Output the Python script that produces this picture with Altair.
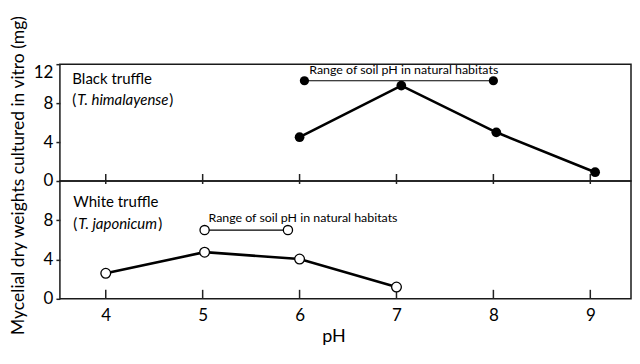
import altair as alt
import pandas as pd

# ---- data ----
ph_black = [6.0, 7.05, 8.03, 9.05]
w_black = [4.5, 9.8, 5.0, 0.9]
ph_white = [4.0, 5.02, 6.0, 7.0]
w_white = [2.6, 4.75, 4.05, 1.2]
range_black_ph = [6.05, 8.0]
range_black_w = [10.3, 10.3]
range_white_ph = [5.02, 5.88]
range_white_w = [7.0, 7.0]
x_ticks = [4, 5, 6, 7, 8, 9]
y_ticks_top = [0, 4, 8, 12]
y_ticks_bottom = [0, 4, 8]
range_label = "Range of soil pH in natural habitats"

FONT = "Lato"
W = 572
H_TOP = 117
H_BOT = 118
xdom = [3.527, 9.42]

xs = alt.Scale(domain=xdom, nice=False, zero=False)
ys = alt.Scale(domain=[0, 12], nice=False)

black = pd.DataFrame({"ph": ph_black, "w": w_black})
white = pd.DataFrame({"ph": ph_white, "w": w_white})
rb = pd.DataFrame({"ph": range_black_ph, "w": range_black_w})
rw = pd.DataFrame({"ph": range_white_ph, "w": range_white_w})
ticks = pd.DataFrame({"ph": x_ticks})

def labels(rows):
    return pd.DataFrame(rows, columns=["ph", "w", "t"])

# ---------- top panel ----------
X_none = alt.X("ph:Q", scale=xs, axis=None)
Y_top = alt.Y(
    "w:Q", scale=ys,
    axis=alt.Axis(
        values=y_ticks_top, title="Mycelial dry weights cultured in vitro (mg)",
        titleX=-41, titleY=111, titleBaseline="middle", titleAlign="center",
        titleFontSize=17.5, titleFontWeight="normal", titleFont=FONT,
        labelBaseline={"condition": {"test": "datum.value == 12", "value": "top"}, "value": "middle"},
    ),
)

top_line = alt.Chart(black).mark_line(color="black", strokeWidth=2.6).encode(x=X_none, y=Y_top)
top_pts = alt.Chart(black).mark_point(filled=True, color="black", size=95, opacity=1).encode(x=X_none, y=Y_top)
top_rline = alt.Chart(rb).mark_line(color="black", strokeWidth=1.2).encode(x=X_none, y=Y_top)
top_rpts = alt.Chart(rb).mark_point(filled=True, color="black", size=85, opacity=1).encode(x=X_none, y=Y_top)
top_rtext = alt.Chart(labels([[6.10, 11.4, range_label]])).mark_text(
    align="left", baseline="middle", font=FONT, fontSize=12.4, color="black"
).encode(x=X_none, y=Y_top, text="t:N")
top_name = alt.Chart(labels([[3.655, 10.45, "Black truffle"]])).mark_text(
    align="left", baseline="middle", font=FONT, fontSize=15, color="black"
).encode(x=X_none, y=Y_top, text="t:N")
top_p1 = alt.Chart(labels([[3.655, 8.3, "("]])).mark_text(
    align="left", baseline="middle", font=FONT, fontSize=15, color="black"
).encode(x=X_none, y=Y_top, text="t:N")
top_it = alt.Chart(labels([[3.655, 8.3, "T. himalayense"]])).mark_text(
    align="left", baseline="middle", font=FONT, fontSize=15, fontStyle="italic", color="black", dx=5
).encode(x=X_none, y=Y_top, text="t:N")
top_p2 = alt.Chart(labels([[3.655, 8.3, ")"]])).mark_text(
    align="left", baseline="middle", font=FONT, fontSize=15, color="black", dx=97
).encode(x=X_none, y=Y_top, text="t:N")
top_ticks = alt.Chart(ticks).mark_rule(color="#222", strokeWidth=1.5).encode(
    x=X_none, y=alt.value(H_TOP - 7), y2=alt.value(H_TOP)
)

top = alt.layer(
    top_ticks, top_rline, top_rpts, top_line, top_pts, top_rtext, top_name, top_p1, top_it, top_p2
).properties(width=W, height=H_TOP)

# ---------- bottom panel ----------
X_bot = alt.X(
    "ph:Q", scale=xs,
    axis=alt.Axis(values=x_ticks, title="pH", ticks=False, tickSize=0, domain=False,
                  labelPadding=9, titleFontSize=18, titleFontWeight="normal", titleFont=FONT,
                  titleX=274, titlePadding=4),
)
Y_bot = alt.Y("w:Q", scale=ys, axis=alt.Axis(values=y_ticks_bottom, title=None))

bot_line = alt.Chart(white).mark_line(color="black", strokeWidth=2.6).encode(x=X_bot, y=Y_bot)
bot_pts = alt.Chart(white).mark_point(filled=True, fill="white", stroke="black", strokeWidth=1.3,
                                       size=95, opacity=1).encode(x=X_bot, y=Y_bot)
bot_rline = alt.Chart(rw).mark_line(color="black", strokeWidth=1.2).encode(x=X_bot, y=Y_bot)
bot_rpts = alt.Chart(rw).mark_point(filled=True, fill="white", stroke="black", strokeWidth=1.3,
                                     size=85, opacity=1).encode(x=X_bot, y=Y_bot)
bot_rtext = alt.Chart(labels([[5.06, 8.25, range_label]])).mark_text(
    align="left", baseline="middle", font=FONT, fontSize=12.4, color="black"
).encode(x=X_bot, y=Y_bot, text="t:N")
bot_name = alt.Chart(labels([[3.665, 9.85, "White truffle"]])).mark_text(
    align="left", baseline="middle", font=FONT, fontSize=15, color="black"
).encode(x=X_bot, y=Y_bot, text="t:N")
bot_p1 = alt.Chart(labels([[3.665, 7.6, "("]])).mark_text(
    align="left", baseline="middle", font=FONT, fontSize=15, color="black"
).encode(x=X_bot, y=Y_bot, text="t:N")
bot_it = alt.Chart(labels([[3.665, 7.6, "T. japonicum"]])).mark_text(
    align="left", baseline="middle", font=FONT, fontSize=15, fontStyle="italic", color="black", dx=5
).encode(x=X_bot, y=Y_bot, text="t:N")
bot_p2 = alt.Chart(labels([[3.665, 7.6, ")"]])).mark_text(
    align="left", baseline="middle", font=FONT, fontSize=15, color="black", dx=85
).encode(x=X_bot, y=Y_bot, text="t:N")
bot_ticks_top = alt.Chart(ticks).mark_rule(color="#222", strokeWidth=1.5).encode(
    x=X_bot, y=alt.value(0), y2=alt.value(3)
)
bot_ticks_bot = alt.Chart(ticks).mark_rule(color="#222", strokeWidth=1.5).encode(
    x=X_bot, y=alt.value(H_BOT - 9), y2=alt.value(H_BOT)
)

bottom = alt.layer(
    bot_ticks_top, bot_ticks_bot, bot_rline, bot_rpts, bot_line, bot_pts, bot_rtext,
    bot_name, bot_p1, bot_it, bot_p2
).properties(width=W, height=H_BOT)

chart = alt.vconcat(top, bottom, spacing=0, bounds="flush").properties(
    padding={"left": 1, "top": 5, "right": 0, "bottom": 0}
).configure_view(
    stroke="#1a1a1a", strokeWidth=1.5
).configure_axis(
    grid=False, domain=False, labelFont=FONT, labelFontSize=17, labelColor="black",
    tickColor="#222", tickSize=4, tickWidth=1.5, labelPadding=3, titleColor="black",
)

chart.save("out.html", embed_options={"renderer": "svg", "actions": False})
